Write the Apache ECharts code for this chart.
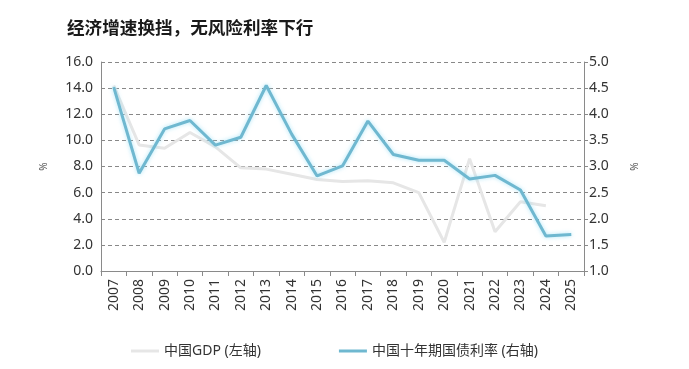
<!DOCTYPE html>
<html><head><meta charset="utf-8">
<script src="https://cdn.jsdelivr.net/npm/echarts@6/dist/echarts.min.js"></script>
<style>html,body{margin:0;padding:0;background:#fff}#c{width:689px;height:369px}</style>
</head><body><div id="c"></div>
<script>
const years = ['2007','2008','2009','2010','2011','2012','2013','2014','2015','2016','2017','2018','2019','2020','2021','2022','2023','2024','2025'];
const gdp = [14.2, 9.65, 9.4, 10.6, 9.5, 7.9, 7.8, 7.4, 7.0, 6.85, 6.9, 6.75, 6.0, 2.2, 8.6, 3.0, 5.3, 5.0, null];
const bond = [4.52, 2.87, 3.72, 3.88, 3.41, 3.56, 4.55, 3.62, 2.82, 3.01, 3.87, 3.23, 3.12, 3.12, 2.76, 2.83, 2.55, 1.67, 1.70];
const title = '经济增速换挡，无风险利率下行';
const gdpName = '中国GDP (左轴)';
const bondName = '中国十年期国债利率 (右轴)';
const font = '"Noto Sans", "Noto Sans CJK SC", sans-serif';
const chart = echarts.init(document.getElementById('c'));
chart.setOption({
  animation: false,
  textStyle: {fontFamily: font},
  title: {text: title, left: 62, top: 15, textStyle: {fontSize: 17.6, fontWeight: 'bold', color: '#1a1a1a', fontFamily: font}},
  grid: {left: 101, right: 105, top: 62, bottom: 98},
  legend: {
    left: 126, top: 339, itemGap: 78, itemWidth: 28, itemHeight: 3, icon: 'rect',
    textStyle: {fontSize: 14, color: '#333', fontFamily: font},
    data: [{name: gdpName}, {name: bondName}]
  },
  xAxis: {
    type: 'category', data: years, boundaryGap: true,
    axisLine: {lineStyle: {color: '#8a8a8a'}},
    axisTick: {show: true, length: 5, lineStyle: {color: '#8a8a8a'}},
    axisLabel: {rotate: 90, fontSize: 14, color: '#333', margin: 8}
  },
  yAxis: [{
    type: 'value', min: 0, max: 16, interval: 2, position: 'left',
    name: '%', nameLocation: 'middle', nameGap: 52, nameRotate: 90,
    nameTextStyle: {fontSize: 10, color: '#555'},
    axisLine: {show: true, lineStyle: {color: '#8a8a8a'}},
    axisTick: {show: false},
    axisLabel: {fontSize: 14, color: '#333', margin: 8, formatter: v => v.toFixed(1)},
    splitLine: {show: true, lineStyle: {color: '#888', type: [4, 3]}}
  }, {
    type: 'value', min: 1, max: 5, interval: 0.5, position: 'right',
    name: '%', nameLocation: 'middle', nameGap: 46, nameRotate: 90,
    nameTextStyle: {fontSize: 10, color: '#555'},
    axisLine: {show: true, lineStyle: {color: '#8a8a8a'}},
    axisTick: {show: true, length: 4, lineStyle: {color: '#8a8a8a'}},
    axisLabel: {fontSize: 14, color: '#333', margin: 5, formatter: v => v.toFixed(1)},
    splitLine: {show: false}
  }],
  series: [{
    name: gdpName, type: 'line', yAxisIndex: 0, data: gdp, symbol: 'none',
    lineStyle: {color: '#e6e6e6', width: 3}, itemStyle: {color: '#e6e6e6'}
  }, {
    name: bondName, type: 'line', yAxisIndex: 1, data: bond, symbol: 'none',
    lineStyle: {color: '#6fb8d0', width: 3, shadowColor: 'rgba(140,220,245,0.7)', shadowBlur: 4}, itemStyle: {color: '#6fb8d0'}
  }]
});
</script></body></html>
